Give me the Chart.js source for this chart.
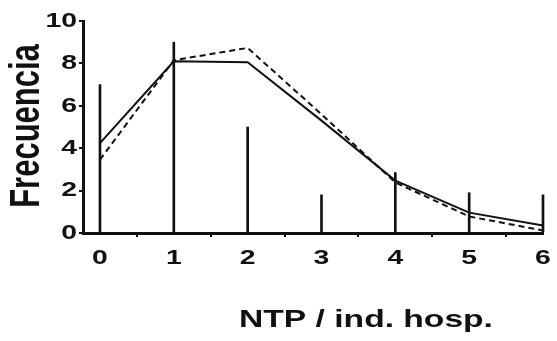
<!DOCTYPE html>
<html>
<head>
<meta charset="utf-8">
<script src="https://cdn.jsdelivr.net/npm/chart.js@4/dist/chart.umd.min.js"></script>
<style>
  body { margin: 0; background: #fff; }
  canvas { display: block; }
</style>
</head>
<body>
<canvas id="chart" width="557" height="341"></canvas>
<script>
// values
const xTicks = [0, 1, 2, 3, 4, 5, 6];
const yTicks = [0, 2, 4, 6, 8, 10];
const observed = [7, 9, 5, 1.8, 2.85, 1.9, 1.8];          // vertical spikes
const fitSolid = [4.24, 8.1, 8.05, 5.3, 2.47, 0.96, 0.35];
const fitDashed = [3.46, 8.15, 8.73, 5.6, 2.38, 0.78, 0.12];
const xTitle = 'NTP / ind. hosp.';
const yTitle = 'Frecuencia';

const ink = '#111';
const toPoints = arr => arr.map((v, i) => ({ x: xTicks[i], y: v }));

// draw text squeezed/stretched like the scanned lettering
function stretchedText(ctx, text, x, y, font, sx, sy, align, rot) {
  ctx.save();
  ctx.translate(x, y);
  if (rot) ctx.rotate(rot);
  ctx.scale(sx, sy);
  ctx.font = font;
  ctx.fillStyle = ink;
  ctx.textAlign = align;
  ctx.textBaseline = 'middle';
  ctx.fillText(text, 0, 0);
  ctx.restore();
}

const labelsPlugin = {
  id: 'labels',
  afterDraw(chart) {
    const ctx = chart.ctx;
    const xs = chart.scales.x, ys = chart.scales.y;
    const area = chart.chartArea;
    const digitFont = 'bold 21px "Liberation Sans", Arial, sans-serif';

    yTicks.forEach(v => {
      stretchedText(ctx, String(v), area.left - 6, ys.getPixelForValue(v), digitFont, 1.35, 1, 'right');
    });
    xTicks.forEach(v => {
      stretchedText(ctx, String(v), xs.getPixelForValue(v), area.bottom + 25, digitFont, 1.35, 1, 'center');
    });

    stretchedText(ctx, xTitle, 366, 320, 'bold 24px "Liberation Sans", Arial, sans-serif', 1.4, 1, 'center');
    stretchedText(ctx, yTitle, 27, 126, 'bold 31px "Liberation Sans", Arial, sans-serif', 1, 1.4, 'center', -Math.PI / 2);
  }
};

new Chart(document.getElementById('chart'), {
  type: 'line',
  data: {
    datasets: [
      {
        type: 'bar',
        data: toPoints(observed),
        backgroundColor: ink,
        barThickness: 2,
        clip: false
      },
      {
        data: toPoints(fitSolid),
        borderColor: ink,
        borderWidth: 2,
        pointRadius: 0,
        tension: 0,
        clip: false
      },
      {
        data: toPoints(fitDashed),
        borderColor: ink,
        borderWidth: 2,
        borderDash: [6, 4],
        pointRadius: 0,
        tension: 0,
        clip: false
      }
    ]
  },
  options: {
    responsive: false,
    animation: false,
    devicePixelRatio: 1,
    layout: { padding: { left: 79, right: 14, top: 21, bottom: 104 } },
    plugins: { legend: { display: false }, tooltip: { enabled: false } },
    scales: {
      x: {
        type: 'linear',
        min: -0.23,
        max: 6,
        offset: false,
        afterBuildTicks: s => { s.ticks = xTicks.map(v => ({ value: v })); },
        ticks: { display: false },
        grid: { drawOnChartArea: false, drawTicks: true, tickLength: 4, lineWidth: 2, color: ink },
        border: { color: ink, width: 3 }
      },
      y: {
        min: 0,
        max: 10,
        afterBuildTicks: s => { s.ticks = yTicks.map(v => ({ value: v })); },
        ticks: { display: false },
        grid: { drawOnChartArea: false, drawTicks: true, tickLength: 4, lineWidth: 2, color: ink },
        border: { color: ink, width: 3 }
      }
    }
  },
  plugins: [labelsPlugin]
});
</script>
</body>
</html>
